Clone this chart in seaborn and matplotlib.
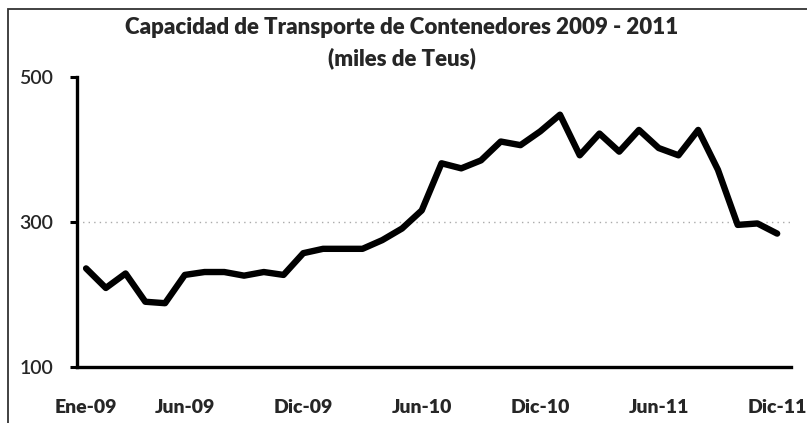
import matplotlib
matplotlib.use("Agg")
import matplotlib.pyplot as plt
import seaborn as sns
import pandas as pd
from matplotlib.patches import Rectangle

months = list(range(36))
capacidad = [236, 209, 229, 190, 188, 227, 231, 231, 226, 231, 227, 257,
             263, 263, 263, 275, 291, 316, 381, 374, 385, 411, 406, 425,
             448, 392, 422, 397, 427, 402, 392, 427, 372, 296, 298, 284]
tick_pos = [0, 5, 11, 17, 23, 29, 35]
tick_labels = ["Ene-09", "Jun-09", "Dic-09", "Jun-10", "Dic-10", "Jun-11", "Dic-11"]
y_ticks = [100, 300, 500]
title1 = "Capacidad de Transporte de Contenedores 2009 - 2011"
title2 = "(miles de Teus)"

sns.set_theme(style="white")
plt.rcParams['font.family'] = ['Lato', 'DejaVu Sans']

df = pd.DataFrame({"mes": months, "capacidad": capacidad})

fig = plt.figure(figsize=(8.07, 4.23), dpi=100)
ax = fig.add_axes([77/807, 1-367/423, (791-77)/807, (367-77)/423])

ax.axhline(300, color="#aaaaaa", lw=1.0, ls=(0, (1, 3)), zorder=1)
sns.lineplot(data=df, x="mes", y="capacidad", ax=ax, color="black", lw=4.6,
             solid_joinstyle="round", solid_capstyle="round", zorder=3)

ax.set_xlim(-0.46, 35.7)
ax.set_ylim(100, 500)
ax.set_yticks(y_ticks)
ax.set_yticklabels([str(v) for v in y_ticks], fontsize=14, fontweight="semibold")
ax.set_xticks(tick_pos)
ax.set_xticklabels(tick_labels, fontsize=14, fontweight="heavy")
ax.set_xlabel("")
ax.set_ylabel("")
ax.tick_params(axis="y", direction="out", length=5, width=2.2, color="black",
               left=True, pad=12)
ax.tick_params(axis="x", length=0, pad=23)
for s in ["top", "right"]:
    ax.spines[s].set_visible(False)
for s in ["left", "bottom"]:
    ax.spines[s].set_color("black")
    ax.spines[s].set_linewidth(2.4)

fig.text(402/807, 1-28/423, title1, ha="center", va="center",
         fontsize=16, fontweight="heavy")
fig.text(402/807, 1-58/423, title2, ha="center", va="center",
         fontsize=16, fontweight="heavy")

fig.add_artist(Rectangle((8/807, -0.2), 1.0, 1.2 - 9/423 + 0.0,
                         transform=fig.transFigure, fill=False,
                         edgecolor="#333333", lw=1.3))

fig.savefig("out.png", dpi=100)
